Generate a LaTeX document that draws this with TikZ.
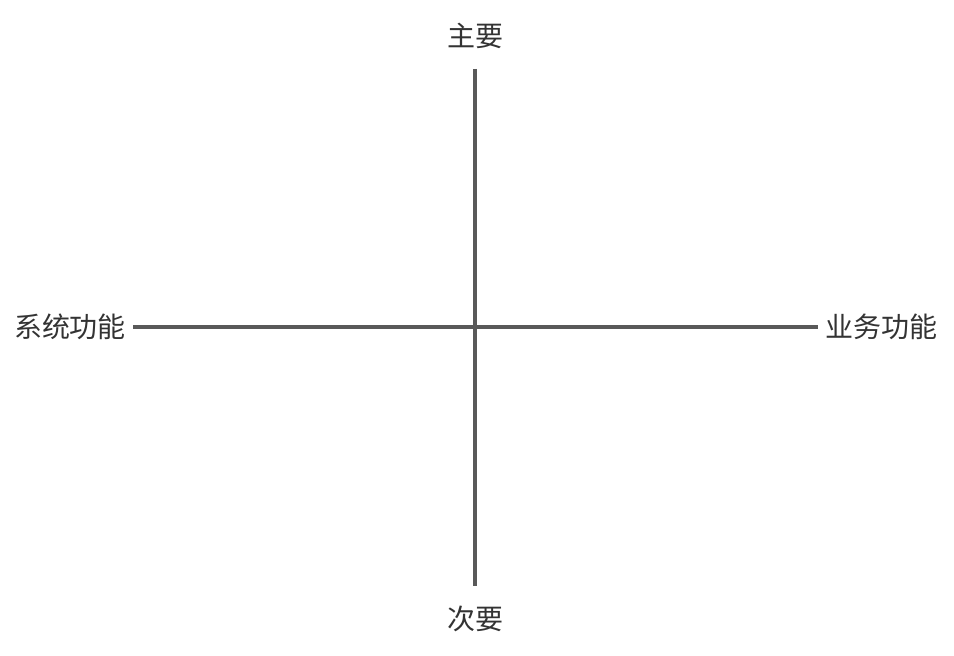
\documentclass[tikz,border=0pt]{standalone}
\usepackage{fontspec}
\newfontfamily\cjk{Noto Sans CJK SC}
\usetikzlibrary{positioning}
\definecolor{axisGrey}{HTML}{595959}
\definecolor{labelInk}{HTML}{333333}

\begin{document}
\begin{tikzpicture}[x=0.75pt,y=-0.75pt,line width=3pt]
  \tikzstyle{axisLabel}=[text=labelInk,font=\cjk\fontsize{21}{25}\selectfont,inner sep=0pt]
  \useasboundingbox (0,0) rectangle (954,656);
  \coordinate (top) at (475,69);
  \coordinate (bottom) at (475,586);
  \coordinate (left) at (133,327);
  \coordinate (right) at (818,327);
  \node[axisLabel,above=14pt of top] (major) {主要};
  \node[axisLabel,below=13.5pt of bottom] (minor) {次要};
  \node[axisLabel,left=3.75pt of left] (sysfn) {系统功能};
  \node[axisLabel,right=3.75pt of right] (bizfn) {业务功能};
  \draw[axisGrey] (top) -- (bottom);
  \draw[axisGrey] (left) -- (right);
\end{tikzpicture}
\end{document}
